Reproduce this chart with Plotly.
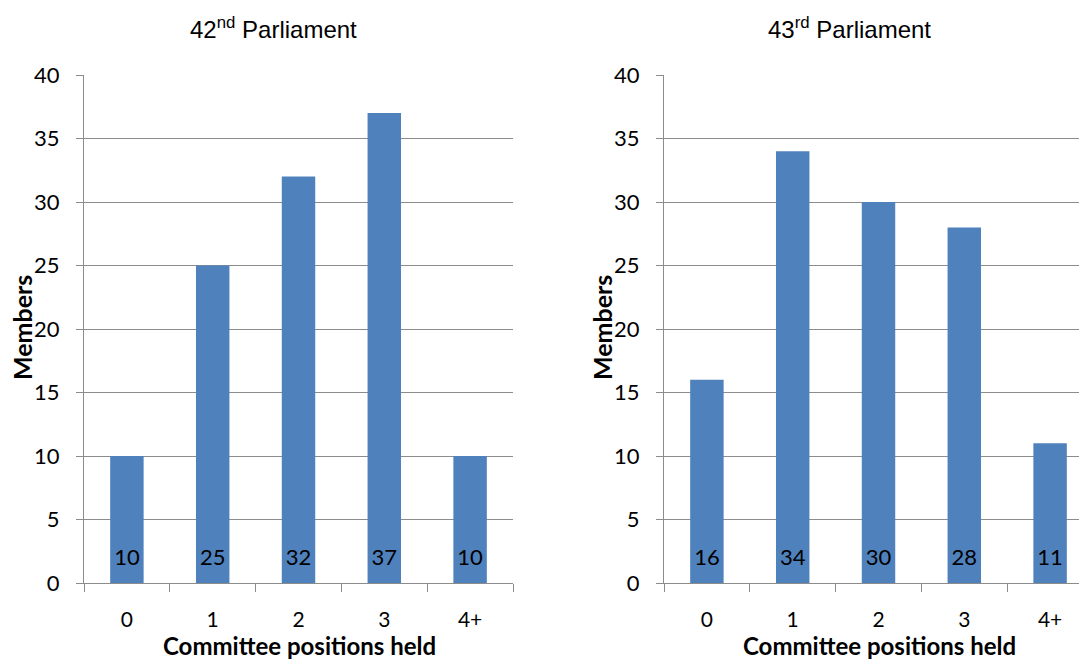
import plotly.graph_objects as go

categories = ["0", "1", "2", "3", "4+"]
members_42 = [10, 25, 32, 37, 10]
members_43 = [16, 34, 30, 28, 11]
y_ticks = [0, 5, 10, 15, 20, 25, 30, 35, 40]

BAR = "#4F81BD"
GRID = "#8C8C8C"
FONT = "Lato, sans-serif"
W, H = 1079, 659
LABEL_Y = 1.85  # vertical placement of in-bar value labels (data units)

def px(x):
    return x / W

def py(y):
    return 1 - y / H

fig = go.Figure()
for vals, xa, ya in [(members_42, "x", "y"), (members_43, "x2", "y2")]:
    fig.add_trace(go.Bar(
        x=categories, y=vals, xaxis=xa, yaxis=ya,
        marker=dict(color=BAR, line=dict(width=0)),
        width=0.39, showlegend=False, hoverinfo="x+y",
    ))
    fig.add_trace(go.Scatter(
        x=categories, y=[LABEL_Y] * len(vals), xaxis=xa, yaxis=ya,
        mode="text", text=[str(v) for v in vals], textposition="middle center",
        textfont=dict(family=FONT, size=22, color="black"),
        showlegend=False, hoverinfo="skip",
    ))

ydom = [py(583), py(75)]
common_y = dict(range=[0, 40], tickvals=y_ticks, showgrid=True, gridcolor=GRID,
                gridwidth=1, showline=True, linecolor=GRID, linewidth=1,
                ticks="outside", ticklen=7, tickcolor=GRID, automargin=False,
                ticklabelstandoff=12,
                tickfont=dict(family=FONT, size=22, color="black"),
                zeroline=False, domain=ydom)
common_x = dict(type="category", showline=True, linecolor=GRID,
                linewidth=1, ticks="outside", ticklen=8, tickcolor=GRID,
                tickson="boundaries", showgrid=False, automargin=False,
                ticklabelstandoff=18,
                tickfont=dict(family=FONT, size=21, color="black"))

slot = (513 - 84) / 5
right_end = -0.5 + (W - 664) / slot

fig.update_layout(
    width=W, height=H, autosize=False,
    margin=dict(l=0, r=0, t=0, b=0, pad=0),
    paper_bgcolor="white", plot_bgcolor="white",
    xaxis=dict(domain=[px(84), px(513)], anchor="y", range=[-0.5, 4.5], **common_x),
    yaxis=dict(anchor="x", **common_y),
    xaxis2=dict(domain=[px(664), 1.0], anchor="y2", range=[-0.5, right_end], **common_x),
    yaxis2=dict(anchor="x2", **common_y),
)

ann = []
for cx, title, sup in [(px(273), "42", "nd"), (px(849), "43", "rd")]:
    ann.append(dict(x=cx, y=py(28), xref="paper", yref="paper", showarrow=False,
                    xanchor="center", yanchor="middle",
                    text=title + "<sup>" + sup + "</sup> Parliament",
                    font=dict(family="Liberation Sans, Arial, sans-serif", size=24, color="black")))
for cx, ylx in [(px(299), px(22)), (px(879), px(602))]:
    ann.append(dict(x=cx, y=-0.004, xref="paper", yref="paper", showarrow=False,
                    xanchor="center", yanchor="bottom",
                    text="<b>Committee positions held</b>",
                    font=dict(family=FONT, size=24, color="black")))
    ann.append(dict(x=ylx, y=py(328), xref="paper", yref="paper", showarrow=False,
                    xanchor="center", yanchor="middle",
                    text="<b>Members</b>", textangle=-90,
                    font=dict(family=FONT, size=25, color="black")))
fig.update_layout(annotations=ann)

fig.write_html(
    "out.html",
    config={"displayModeBar": False},
    post_script="document.body.style.margin='0';document.body.style.overflow='hidden';",
)
